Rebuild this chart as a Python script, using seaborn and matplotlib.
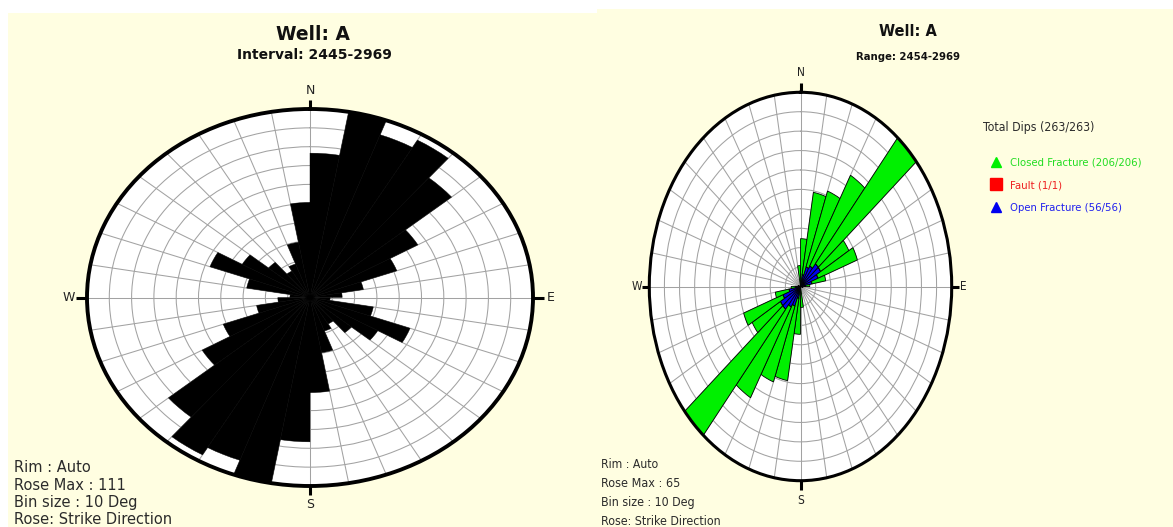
import numpy as np
import pandas as pd
import matplotlib
matplotlib.use("Agg")
import matplotlib.pyplot as plt
from matplotlib.patches import Rectangle
from matplotlib.lines import Line2D
from matplotlib import font_manager
from matplotlib.font_manager import FontProperties
import seaborn as sns

# ---------------------------------------------------------------- data
# Strike bins of 10 degrees over 0-180; a strike rose repeats them at +180.
bin_starts = np.arange(0, 180, 10)

# Well A, interval 2445-2969: all picks
interval_counts = [85, 111, 102, 107, 92, 62, 46, 27, 16, 10,
                   32, 53, 39, 27, 18, 21, 33, 56]

# Well A, range 2454-2969: picks by feature type
closed_counts = [14, 28, 27, 35, 55, 14, 18, 6, 2, 0, 0, 0, 0, 0, 0, 0, 0, 7]
fault_counts = [0, 0, 0, 0, 0, 0, 0, 0, 0, 0, 1, 0, 0, 0, 0, 0, 0, 0]
open_counts = [2, 4, 7, 8, 10, 10, 8, 5, 2, 0, 0, 0, 0, 0, 0, 0, 0, 0]

kinds = ["Closed Fracture", "Fault", "Open Fracture"]
kind_colors = {"Closed Fracture": "#00f000", "Fault": "#ff0000", "Open Fracture": "#0000f0"}
text_colors = {"Closed Fracture": "#22dd22", "Fault": "#ee2020", "Open Fracture": "#2020ee"}

left_rose_max = 111
right_rose_max = 65
cardinals = ["N", "E", "S", "W"]

# ---------------------------------------------------------------- style
sns.set_theme(style="white")
plt.rcParams["font.family"] = ["DejaVu Sans"]

W, H = 1173, 527
cream = "#fffee1"
grid_gray = "#a2a2a2"
edges = np.deg2rad(np.arange(0, 361, 10)).tolist()


def condensed_font(bold):
    """Path of an installed condensed sans face, if there is one."""
    preferred = ["Liberation Sans Narrow", "Noto Sans", "Open Sans", "DejaVu Sans",
                 "Roboto", "Lato", "Inter", "Liberation Sans"]
    found = {}
    for f in font_manager.fontManager.ttflist:
        if f.style != "normal":
            continue
        narrow_face = f.stretch in ("condensed", "semi-condensed") or "Narrow" in f.name
        if not narrow_face:
            continue
        w = f.weight if isinstance(f.weight, int) else font_manager.weight_dict.get(f.weight, 400)
        if (bold and w >= 600) or (not bold and 350 <= w <= 500):
            found.setdefault(f.name, f.fname)
    for name in preferred:
        if name in found:
            return found[name]
    return next(iter(found.values()), None)


cond_regular = condensed_font(False)
cond_bold = condensed_font(True)


def narrow_props(bold=False):
    path = cond_bold if bold else cond_regular
    if path:
        return FontProperties(fname=path)
    return FontProperties(family="Liberation Sans", weight="bold" if bold else "normal")


def fx(px):
    return px / W


def fy(py):
    return 1 - py / H


def strike_frame(counts, kind):
    centers = np.concatenate([bin_starts + 5, bin_starts + 185])
    vals = np.concatenate([counts, counts])
    return pd.DataFrame({"theta": np.deg2rad(centers), "count": vals, "kind": kind})


def rose_axes(fig, cx, cy, rx, ry):
    ax = fig.add_axes([fx(cx - rx), fy(cy + ry), 2 * rx / W, 2 * ry / H],
                      projection="polar")
    ax.set_theta_zero_location("N")
    ax.set_theta_direction(-1)
    ax.set_aspect("auto")
    ax.set_facecolor("white")
    return ax


def finish_rose(ax, rmax, rim_width, label_props, r_ns, r_ew):
    for i, ang in enumerate([0, 90, 180, 270]):
        t = np.deg2rad(ang)
        ax.plot([t, t], [rmax, rmax * 1.05], color="black", lw=2.2,
                solid_capstyle="butt", clip_on=False, zorder=5)
        r = r_ns if ang in (0, 180) else r_ew
        ax.text(t, rmax * r, cardinals[i], ha="center", va="center",
                fontproperties=label_props, color="#222222")
    ax.set_xlim(0, 2 * np.pi)
    ax.set_ylim(0, rmax)
    ax.set_xticks(np.deg2rad(np.arange(0, 360, 10)))
    ax.set_xticklabels([])
    ax.set_yticks(np.linspace(0, rmax, 11)[1:-1])
    ax.set_yticklabels([])
    ax.grid(True, color=grid_gray, linewidth=0.75)
    ax.set_axisbelow(True)
    ax.tick_params(length=0)
    ax.spines["polar"].set_linewidth(rim_width)
    ax.spines["polar"].set_color("black")
    ax.set_xlabel("")
    ax.set_ylabel("")


fig = plt.figure(figsize=(W / 100, H / 100), dpi=100, facecolor="white")
renderer = fig.canvas.get_renderer()
fig.add_artist(Rectangle((fx(8), 0), fx(597) - fx(8), fy(13), transform=fig.transFigure,
                         facecolor=cream, edgecolor="none", zorder=-10))
fig.add_artist(Rectangle((fx(597), 0), 1 - fx(597), fy(9), transform=fig.transFigure,
                         facecolor=cream, edgecolor="none", zorder=-10))


def fitted_text(x, y, s, width_px, cap_px, ha="left", bold=False, color="#2b2b2b"):
    """Narrow-face text sized between a target width and a target cap height."""
    t = fig.text(fx(x), fy(y), s, ha=ha, va="baseline",
                 fontproperties=narrow_props(bold), color=color)
    t.set_fontsize(10)
    w = t.get_window_extent(renderer).width
    size_w = 10 * width_px / w
    size_h = cap_px / 1.0
    t.set_fontsize(np.sqrt(size_w * size_h))
    return t


# ---------------------------------------------------------------- left rose
axl = rose_axes(fig, 310, 297.5, 223, 188.5)
sns.histplot(data=strike_frame(interval_counts, "All"), x="theta", weights="count",
             bins=edges, color="black", edgecolor="black", linewidth=0.3, alpha=1,
             ax=axl)
finish_rose(axl, left_rose_max, 2.8, FontProperties(family="DejaVu Sans", size=9),
            1.10, 1.08)

fig.text(fx(313), fy(40.3), "Well: A", ha="center", va="baseline",
         fontsize=13.4, fontweight="bold", color="#111111")
fig.text(fx(314.5), fy(58.8), "Interval: 2445-2969", ha="center", va="baseline",
         fontsize=10, fontweight="bold", color="#111111")
left_notes = ["Rim : Auto", f"Rose Max : {left_rose_max}", "Bin size : 10 Deg",
              "Rose: Strike Direction"]
for i, line in enumerate(left_notes):
    fig.text(fx(14), fy(472.5 + 17.0 * i), line, ha="left", va="baseline",
             fontsize=10.5, color="#2b2b2b")

# ---------------------------------------------------------------- right rose
right_df = pd.concat([strike_frame(closed_counts, kinds[0]),
                      strike_frame(fault_counts, kinds[1]),
                      strike_frame(open_counts, kinds[2])], ignore_index=True)
axr = rose_axes(fig, 800.5, 286.5, 151.2, 194.2)
sns.histplot(data=right_df, x="theta", weights="count", hue="kind", hue_order=kinds,
             multiple="stack", bins=edges, palette=kind_colors, edgecolor="black",
             linewidth=0.6, alpha=1, legend=False, ax=axr)
card_props = narrow_props()
card_props.set_size(8.5)
finish_rose(axr, right_rose_max, 2.2, card_props, 1.10, 1.08)

fitted_text(907.6, 36.3, "Well: A", 46, 14.5, ha="center", bold=True, color="#111111")
fitted_text(908.3, 60.5, "Range: 2454-2969", 89, 9.5, ha="center", bold=True,
            color="#111111")
right_notes = ["Rim : Auto", f"Rose Max : {right_rose_max}", "Bin size : 10 Deg",
               "Rose: Strike Direction"]
note_widths = [49, 69, 82, 104]
for i, (line, wpx) in enumerate(zip(right_notes, note_widths)):
    fitted_text(600.7, 468.3 + 19.0 * i, line, wpx, 10.3)

# ---------------------------------------------------------------- legend
kind_totals = {kinds[0]: sum(closed_counts), kinds[1]: sum(fault_counts),
               kinds[2]: sum(open_counts)}
all_dips = sum(kind_totals.values())
fitted_text(982.7, 130.7, f"Total Dips ({all_dips}/{all_dips})", 96, 10.3)
markers = {kinds[0]: "^", kinds[1]: "s", kinds[2]: "^"}
marker_sizes = {kinds[0]: 7, kinds[1]: 9, kinds[2]: 7}
entry_widths = {kinds[0]: 108, kinds[1]: 43, kinds[2]: 92}
for i, k in enumerate(kinds):
    y = 161.5 + 22.8 * i
    fig.add_artist(Line2D([fx(996.5)], [fy(y)], marker=markers[k], markersize=marker_sizes[k],
                          color=kind_colors[k], linestyle="none", transform=fig.transFigure))
    fitted_text(1010, y + 4.2, f"{k} ({kind_totals[k]}/{kind_totals[k]})", entry_widths[k],
                10.0, color=text_colors[k])

fig.savefig("out.png", dpi=100, facecolor="white")
